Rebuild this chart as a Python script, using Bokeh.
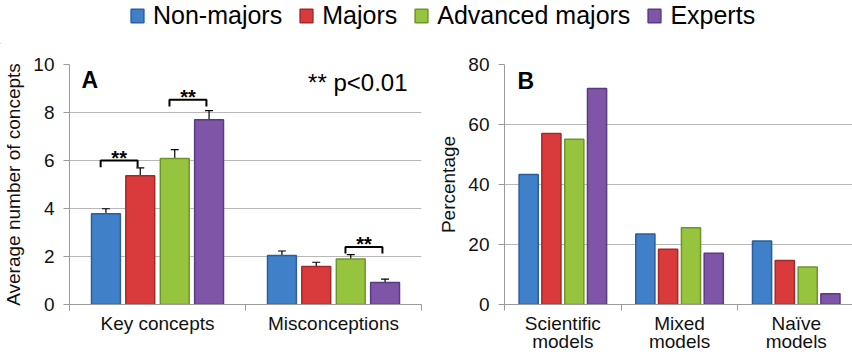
from bokeh.plotting import figure
from bokeh.models import (ColumnDataSource, Range1d, FixedTicker, Whisker, TeeHead,
                          Label, Legend, LegendItem)
from bokeh.layouts import column, row
from bokeh.core.properties import value
from bokeh.embed import file_html
from bokeh.resources import INLINE

# ---------------- data ----------------
groups = ["Non-majors", "Majors", "Advanced majors", "Experts"]
colors = ["#3f80c9", "#d93a3b", "#96c43f", "#7f55a8"]
edges = ["#2b5e9a", "#a32a2b", "#6c962a", "#5a3a80"]

a_cats = ["Key concepts", "Misconceptions"]
a_non_majors = [3.78, 2.04]
a_majors = [5.36, 1.58]
a_advanced = [6.08, 1.90]
a_experts = [7.70, 0.92]
a_err_non_majors = [0.21, 0.19]
a_err_majors = [0.33, 0.18]
a_err_advanced = [0.37, 0.18]
a_err_experts = [0.38, 0.14]
a_ticks = [0, 2, 4, 6, 8, 10]

# significance brackets: (category index, left group, right group, bracket level)
sig_cat = [0, 0, 1]
sig_left = [0, 2, 2]
sig_right = [1, 3, 3]
sig_level = [6.0, 8.53, 2.4]

b_cats = ["Scientific\nmodels", "Mixed\nmodels", "Naïve\nmodels"]
b_non_majors = [43.3, 23.5, 21.2]
b_majors = [57.0, 18.4, 14.7]
b_advanced = [55.1, 25.6, 12.5]
b_experts = [72.0, 17.1, 3.6]
b_ticks = [0, 20, 40, 60, 80]

a_vals = [a_non_majors, a_majors, a_advanced, a_experts]
a_errs = [a_err_non_majors, a_err_majors, a_err_advanced, a_err_experts]
b_vals = [b_non_majors, b_majors, b_advanced, b_experts]

# ---------------- style ----------------
FONT = "Liberation Sans"
offsets = [-0.293, -0.098, 0.098, 0.293]
bar_w = 0.164
GRID = "#b8b8b8"
AXIS = "#9a9a9a"


def style_axes(p, cats, yticks, ytitle):
    p.outline_line_color = None
    p.xgrid.visible = False
    p.ygrid.grid_line_color = GRID
    p.ygrid.ticker = FixedTicker(ticks=yticks)
    ya = p.yaxis[0]
    ya.ticker = FixedTicker(ticks=yticks)
    ya.axis_label = ytitle
    ya.axis_label_text_font = FONT
    ya.axis_label_text_font_size = "19px"
    ya.axis_label_text_font_style = "normal"
    ya.axis_label_text_color = "#111111"
    ya.axis_label_standoff = 6
    ya.major_label_text_font = FONT
    ya.major_label_text_font_size = "19px"
    ya.major_label_text_color = "#111111"
    ya.major_label_standoff = 9
    ya.axis_line_color = AXIS
    ya.major_tick_line_color = AXIS
    ya.major_tick_out = 6
    ya.major_tick_in = 0
    ya.minor_tick_line_color = None
    xa = p.xaxis[0]
    n = len(cats)
    xa.ticker = FixedTicker(ticks=[i + 0.5 for i in range(n)],
                            minor_ticks=[float(i) for i in range(n + 1)])
    xa.major_label_overrides = {i + 0.5: c for i, c in enumerate(cats)}
    xa.major_label_text_font = FONT
    xa.major_label_text_font_size = "19px"
    xa.major_label_text_color = "#111111"
    xa.major_label_text_line_height = 0.87
    xa.major_label_standoff = 2
    xa.axis_line_color = AXIS
    xa.major_tick_line_color = None
    xa.major_tick_out = 0
    xa.major_tick_in = 0
    xa.minor_tick_line_color = AXIS
    xa.minor_tick_out = 6
    xa.minor_tick_in = 0


def draw_bars(p, vals, errs=None):
    for gi, g in enumerate(groups):
        xs = [ci + 0.5 + offsets[gi] for ci in range(len(vals[gi]))]
        data = dict(x=xs, top=vals[gi])
        if errs is not None:
            data["upper"] = [v + e for v, e in zip(vals[gi], errs[gi])]
            data["lower"] = [v - e for v, e in zip(vals[gi], errs[gi])]
        src = ColumnDataSource(data)
        p.vbar(x="x", top="top", width=bar_w, bottom=0, source=src,
               fill_color=colors[gi], line_color=edges[gi], line_width=1.5)
        if errs is not None:
            w = Whisker(source=src, base="x", upper="upper", lower="lower",
                        dimension="height", line_color="black", line_width=1.2,
                        upper_head=TeeHead(size=8, line_color="black", line_width=1.2),
                        lower_head=TeeHead(size=8, line_color="black", line_width=1.2))
            p.add_layout(w)


# ---------------- panel A ----------------
pa = figure(width=430, height=310, x_range=Range1d(0, len(a_cats)), y_range=Range1d(0, 10),
            output_backend="svg", toolbar_location=None,
            min_border_left=68, min_border_right=9, min_border_top=20, min_border_bottom=47)
style_axes(pa, a_cats, a_ticks, "Average number of concepts")
draw_bars(pa, a_vals, a_errs)

leg = 0.28
bxs, bys, sx, sy = [], [], [], []
for c, l, r, lev in zip(sig_cat, sig_left, sig_right, sig_level):
    xl = c + 0.5 + offsets[l] - 0.03
    xr = c + 0.5 + offsets[r] - 0.015
    bxs.append([xl, xl, xr, xr])
    bys.append([lev - leg, lev, lev, lev - leg])
    sx.append((xl + xr) / 2)
    sy.append(lev)
pa.multi_line(xs=bxs, ys=bys, line_color="black", line_width=2)
pa.text(x=sx, y=sy, text=["**"] * len(sx), text_align="center", text_baseline="alphabetic",
        y_offset=-3, text_font=value(FONT), text_font_style="bold", text_font_size="20px",
        text_color="black")

pa.add_layout(Label(x=12, y=212, x_units="screen", y_units="screen", text="A",
                    text_font=FONT, text_font_style="bold", text_font_size="23px",
                    text_color="black"))
pa.add_layout(Label(x=338, y=209, x_units="screen", y_units="screen", text="** p<0.01",
                    text_align="right", text_font=FONT, text_font_size="24px",
                    text_color="black"))

# ---------------- panel B ----------------
pb = figure(width=422, height=310, x_range=Range1d(0, 2.982), y_range=Range1d(0, 80),
            output_backend="svg", toolbar_location=None,
            min_border_left=74, min_border_right=0, min_border_top=18, min_border_bottom=50)
style_axes(pb, b_cats, b_ticks, "Percentage")
draw_bars(pb, b_vals)
pb.add_layout(Label(x=13, y=211, x_units="screen", y_units="screen", text="B",
                    text_font=FONT, text_font_style="bold", text_font_size="23px",
                    text_color="black"))

# ---------------- legend strip ----------------
lf = figure(width=852, height=44, x_range=Range1d(0, 1), y_range=Range1d(0, 1),
            output_backend="svg", toolbar_location=None,
            x_axis_location=None, y_axis_location=None, min_border=0)
lf.outline_line_color = None
lf.grid.visible = False
items = []
for gi, g in enumerate(groups):
    # one off-canvas point so the legend swatch has a colour to draw
    src = ColumnDataSource(dict(x=[-5.0], top=[0.0], fc=[colors[gi]], lc=[edges[gi]]))
    r = lf.vbar(x="x", top="top", width=0.1, fill_color="fc", line_color="lc",
                line_width=1.5, source=src)
    items.append(LegendItem(label=g, renderers=[r], index=0))
legend = Legend(items=items, orientation="horizontal", location=(129, 14),
                padding=0, margin=0, spacing=16, label_standoff=8,
                glyph_width=16, glyph_height=17, border_line_color=None,
                background_fill_alpha=0, label_text_font=FONT,
                label_text_font_size="25px", label_text_color="black")
lf.add_layout(legend)

layout = column(lf, row(pa, pb))
open("out.html", "w").write(file_html(layout, INLINE))
